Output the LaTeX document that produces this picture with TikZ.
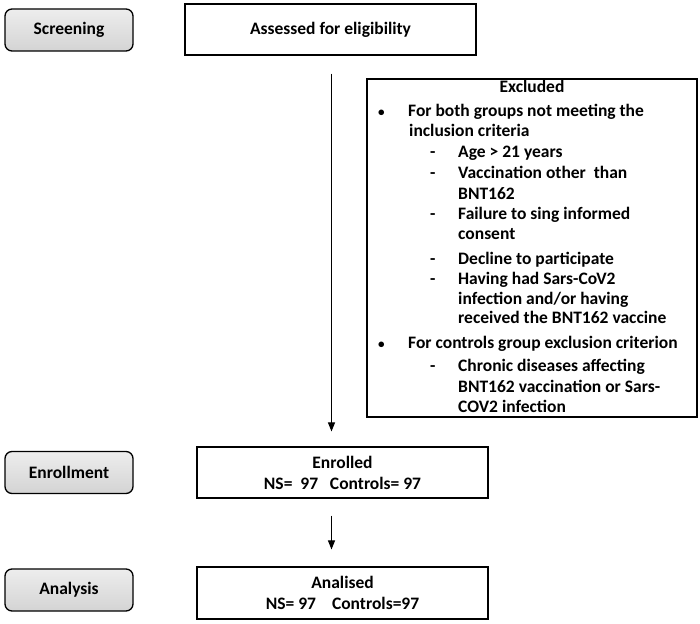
\documentclass[tikz,border=0pt]{standalone}
\usepackage{fontspec}
\setmainfont{Carlito}
\usetikzlibrary{arrows.meta, positioning, calc}
\tikzset{
    stage/.style={
        rectangle, rounded corners=7pt, minimum width=128pt, minimum height=42pt,
        align=center, draw=black, line width=1.3pt, top color=gray!14, bottom color=gray!34,
        font=\fontsize{17.5}{21}\selectfont\bfseries
    },
    flowbox/.style={
        rectangle, minimum width=291pt, minimum height=51pt,
        align=center, draw=black, line width=1.1pt, fill=white,
        font=\fontsize{17.5}{21}\selectfont\bfseries
    },
    exbox/.style={
        rectangle, minimum width=330pt, minimum height=338pt, draw=black, line width=1.1pt
    },
    exline/.style={
        anchor=west, inner sep=0pt, text height=12pt, text depth=3.5pt,
        font=\fontsize{17.5}{21}\selectfont\bfseries
    },
    arrow/.style={
        line width=1pt, -{Triangle[length=9pt, width=7pt]}
    }
}
\newcommand{\bul}{\makebox[30pt][l]{\scalebox{0.75}{\textbullet}}}
\newcommand{\dsh}{\makebox[28pt][l]{-}}

\begin{document}
\begin{tikzpicture}[x=1pt, y=-1pt]
    \useasboundingbox (0,0) rectangle (700,623);
    % stage labels
    \node[stage] (screening) at (69, 30) {Screening};
    \node[stage] (enrollment) at (69, 472.5) {Enrollment};
    \node[stage] (analysis) at (69, 590) {Analysis};

    % main flow
    \node[flowbox] (assessed) at (330.5, 29.5) {Assessed for eligibility};
    \node[flowbox] (enrolled) at (342.5, 472.5) {Enrolled\\NS=\ \ 97\ \ \ Controls= 97};
    \node[flowbox, minimum height=52pt] (analised) at (342.5, 593) {Analised\\NS= 97\hspace{16pt}Controls=97};

    % excluded box
    \node[exbox] (excluded) at (532, 248) {};
    \node[exline, anchor=center] (extitle) at (532, 88) {Excluded};
    \node[exline] (ex1) at (378, 112) {\bul For both groups not meeting the};
    \node[exline] (ex2) at (409, 132) {inclusion criteria};
    \node[exline] (ex3) at (430, 153) {\dsh Age > 21 years};
    \node[exline] (ex4) at (430, 174) {\dsh Vaccination other\ \ than};
    \node[exline] (ex5) at (458, 195) {BNT162};
    \node[exline] (ex6) at (430, 215) {\dsh Failure to sing informed};
    \node[exline] (ex7) at (458, 235) {consent};
    \node[exline] (ex8) at (430, 260) {\dsh Decline to participate};
    \node[exline] (ex9) at (430, 280) {\dsh Having had Sars-CoV2};
    \node[exline] (ex10) at (458, 300) {infection and/or having};
    \node[exline] (ex11) at (458, 319) {received the BNT162 vaccine};
    \node[exline] (ex12) at (378, 344) {\bul For controls group exclusion criterion};
    \node[exline] (ex13) at (430, 367) {\dsh Chronic diseases affecting};
    \node[exline] (ex14) at (458, 388) {BNT162 vaccination or Sars-};
    \node[exline] (ex15) at (458, 408) {COV2 infection};

    % arrows
    \coordinate (spine) at (331.5, 0);
    \draw[arrow] ([yshift=-18pt]spine |- assessed.south) -- ([yshift=15pt]spine |- enrolled.north);
    \draw[arrow] ([yshift=-17pt]spine |- enrolled.south) -- ([yshift=17pt]spine |- analised.north);
\end{tikzpicture}
\end{document}
